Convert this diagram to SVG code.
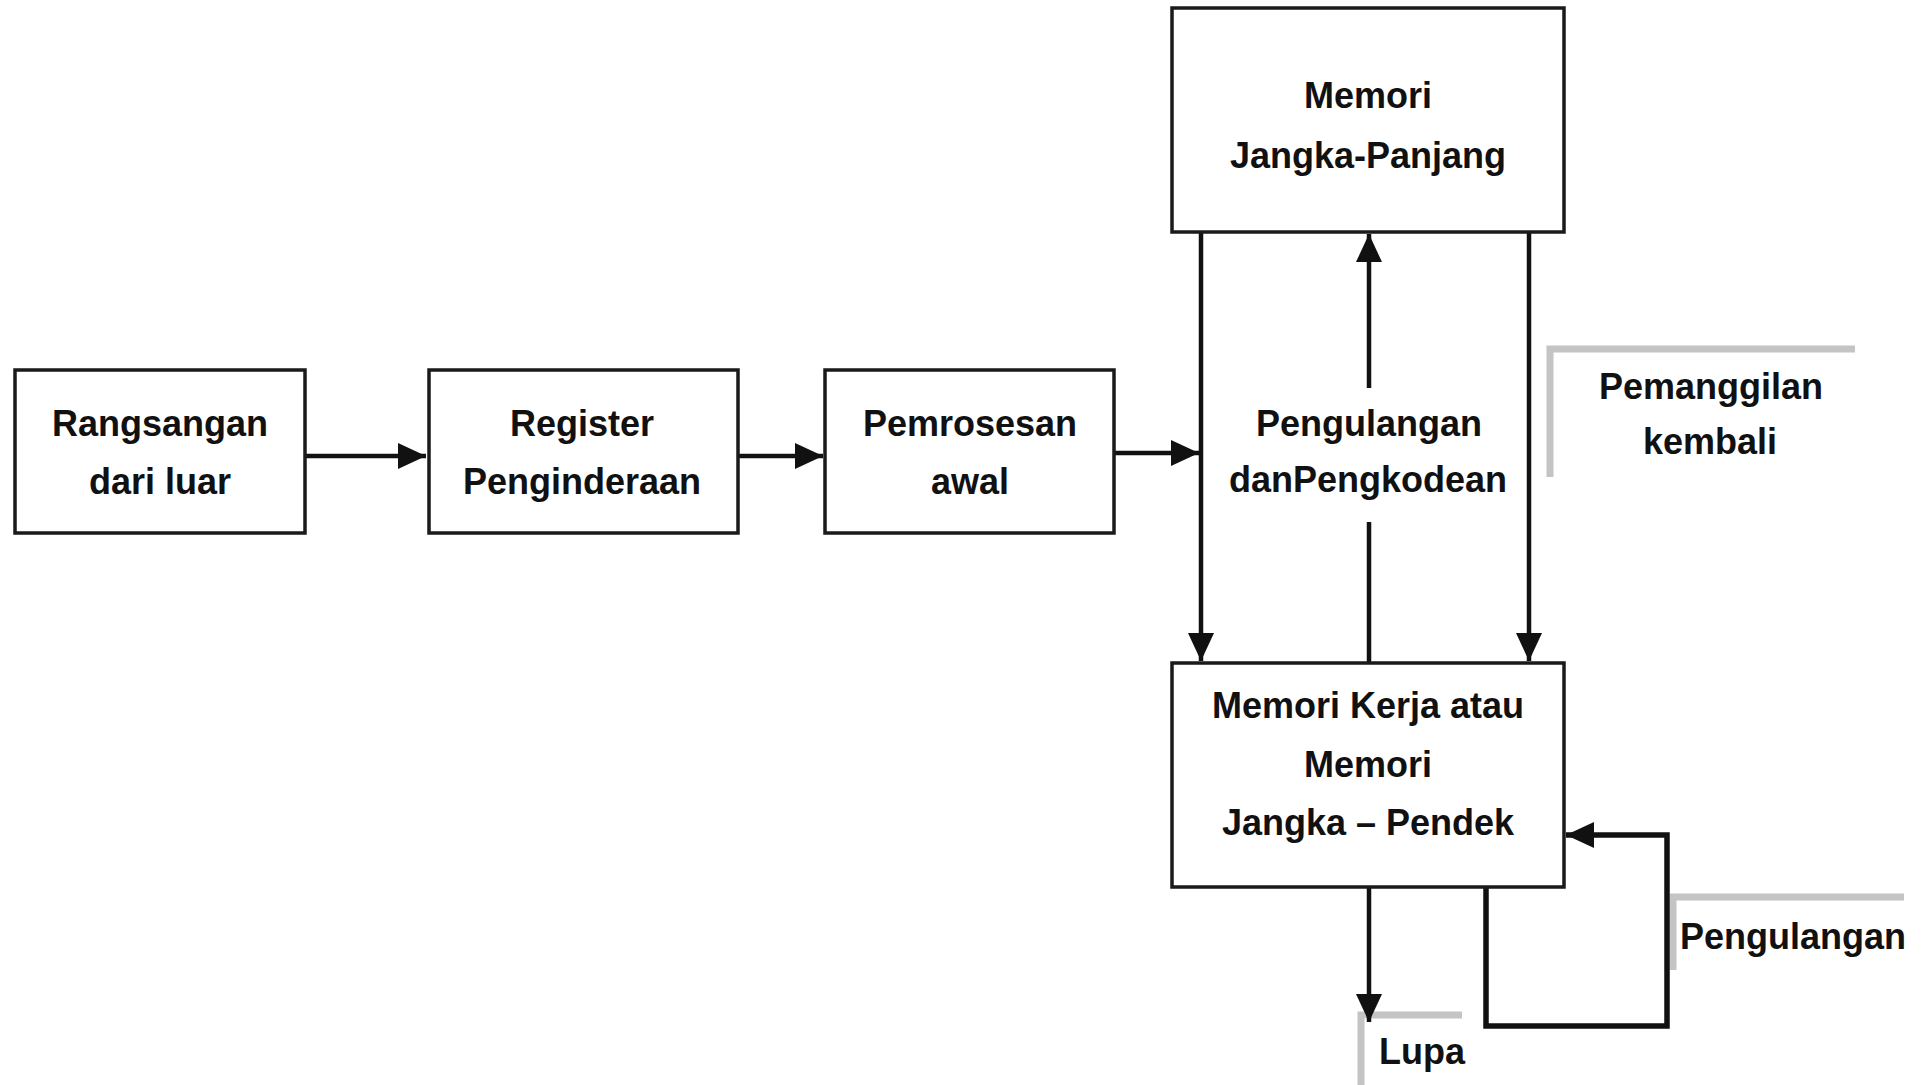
<svg xmlns="http://www.w3.org/2000/svg" width="1926" height="1085" viewBox="0 0 1926 1085">
<style>
.box{fill:#fff;stroke:#1a1a1a;stroke-width:3.5}
.t{font-family:"Liberation Sans",Arial,sans-serif;font-weight:bold;font-size:36px;fill:#111;text-anchor:middle}
.ts{font-family:"Liberation Sans",Arial,sans-serif;font-weight:bold;font-size:36px;fill:#111}
.ln{fill:none;stroke:#111;stroke-width:4.5}
.gray{fill:none;stroke:#c4c4c4;stroke-width:7}
</style>
<defs>
<marker id="ah" viewBox="0 0 28 26" refX="28" refY="13" markerWidth="28" markerHeight="26" markerUnits="userSpaceOnUse" orient="auto">
<path d="M0,0 L28,13 L0,26 Z" fill="#111"/>
</marker>
</defs>
<rect width="1926" height="1085" fill="#fff"/>
<g id="connectors">
<path class="gray" d="M1550,477 V349 H1855"/>
<path class="gray" d="M1673,970 V897 H1904"/>
<path class="gray" d="M1361,1085 V1015 H1462"/>
<line class="ln" x1="305" y1="456" x2="426" y2="456" marker-end="url(#ah)"/>
<line class="ln" x1="738" y1="456" x2="823" y2="456" marker-end="url(#ah)"/>
<line class="ln" x1="1114" y1="453" x2="1199" y2="453" marker-end="url(#ah)"/>
<line class="ln" x1="1201" y1="232" x2="1201" y2="661" marker-end="url(#ah)"/>
<line class="ln" x1="1369" y1="388" x2="1369" y2="234" marker-end="url(#ah)"/>
<line class="ln" x1="1369" y1="522" x2="1369" y2="663"/>
<line class="ln" x1="1529" y1="232" x2="1529" y2="661" marker-end="url(#ah)"/>
<line class="ln" x1="1369" y1="887" x2="1369" y2="1022" marker-end="url(#ah)"/>
<path class="ln" style="stroke-width:5.5" d="M1486,887 V1026 H1667 V835 H1566" marker-end="url(#ah)"/>
</g>
<g id="n-rangsangan">
<rect class="box" x="15" y="370" width="290" height="163"/>
<text class="t" x="160" y="436">Rangsangan</text>
<text class="t" x="160" y="494">dari luar</text>
</g>
<g id="n-register">
<rect class="box" x="429" y="370" width="309" height="163"/>
<text class="t" x="582" y="436">Register</text>
<text class="t" x="582" y="494">Penginderaan</text>
</g>
<g id="n-pemrosesan">
<rect class="box" x="825" y="370" width="289" height="163"/>
<text class="t" x="970" y="436">Pemrosesan</text>
<text class="t" x="970" y="494">awal</text>
</g>
<g id="n-ltm">
<rect class="box" x="1172" y="8" width="392" height="224"/>
<text class="t" x="1368" y="108">Memori</text>
<text class="t" x="1368" y="168">Jangka-Panjang</text>
</g>
<g id="n-wm">
<rect class="box" x="1172" y="663" width="392" height="224"/>
<text class="t" x="1368" y="718">Memori Kerja atau</text>
<text class="t" x="1368" y="777">Memori</text>
<text class="t" x="1368" y="835">Jangka – Pendek</text>
</g>
<g id="labels">
<text class="t" x="1369" y="436">Pengulangan</text>
<text class="t" x="1368" y="492">danPengkodean</text>
<text class="t" x="1711" y="399">Pemanggilan</text>
<text class="t" x="1710" y="454">kembali</text>
<text class="ts" x="1680" y="949">Pengulangan</text>
<text class="ts" x="1379" y="1064">Lupa</text>
</g>
</svg>
